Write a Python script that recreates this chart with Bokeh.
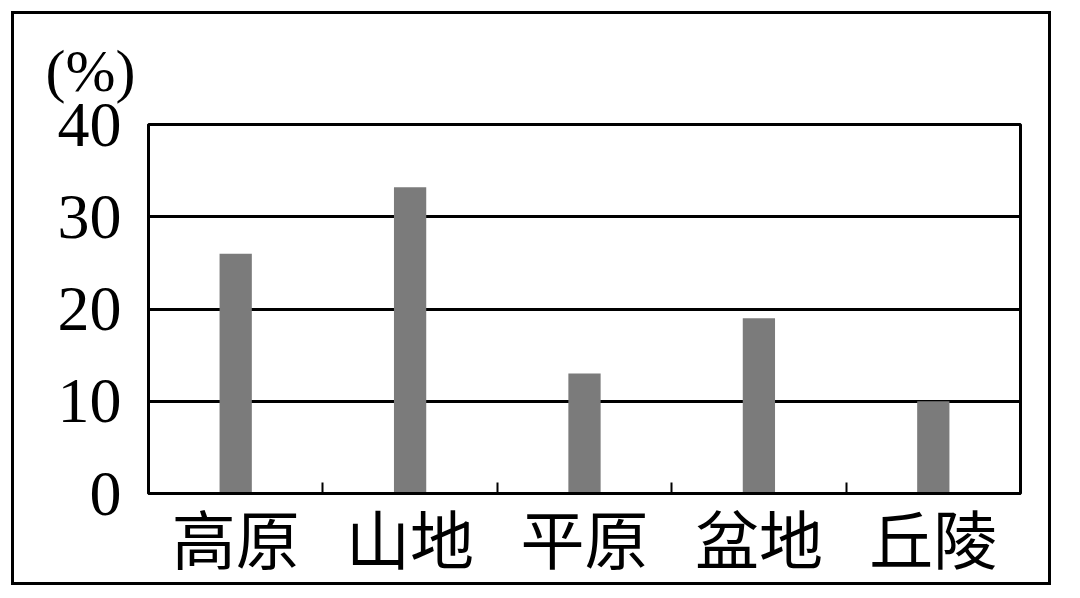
from bokeh.plotting import figure
from bokeh.models import FixedTicker, Range1d, ColumnDataSource, Title
from bokeh.embed import file_html
from bokeh.resources import INLINE

categories = ["高原", "山地", "平原", "盆地", "丘陵"]
values = [26.0, 33.2, 13.0, 19.0, 10.0]
y_ticks = [0, 10, 20, 30, 40]
unit_label = "(%)"

xs = [i + 0.5 for i in range(len(categories))]
bounds = [i for i in range(1, len(categories))]
src = ColumnDataSource(dict(x=xs, top=values))

p = figure(width=1040, height=574, output_backend="svg", toolbar_location=None,
           x_range=Range1d(0, len(categories)), y_range=Range1d(0, y_ticks[-1]),
           min_border_left=134, min_border_right=34, min_border_top=110,
           min_border_bottom=95, margin=(11, 11, 0, 11))
p.styles = {"border": "3px solid black"}

p.vbar(x="x", top="top", width=0.185, source=src, fill_color="#7b7b7b", line_color=None)

t = Title(text=unit_label, text_font="Liberation Serif", text_font_size="60px",
          text_font_style="normal", text_color="black", align="left",
          offset=-103, standoff=41)
p.add_layout(t, "above")

xa = p.xaxis[0]
xa.ticker = FixedTicker(ticks=xs, minor_ticks=bounds)
xa.major_label_overrides = {x: c for x, c in zip(xs, categories)}
xa.major_tick_line_color = None
xa.major_tick_out = 0
xa.major_tick_in = 0
xa.minor_tick_in = 11
xa.minor_tick_out = 0
xa.minor_tick_line_width = 2
xa.minor_tick_line_color = "black"
xa.axis_line_width = 3
xa.axis_line_color = "black"
xa.major_label_text_font = "Noto Sans CJK SC"
xa.major_label_text_font_size = "64px"
xa.major_label_text_color = "black"
xa.major_label_standoff = -4

ya = p.yaxis[0]
ya.ticker = FixedTicker(ticks=y_ticks)
ya.major_tick_line_color = None
ya.minor_tick_line_color = None
ya.major_tick_out = 0
ya.major_tick_in = 0
ya.axis_line_width = 3
ya.axis_line_color = "black"
ya.major_label_text_font = "Liberation Serif"
ya.major_label_text_font_size = "64px"
ya.major_label_text_color = "black"
ya.major_label_standoff = 27

p.xgrid.visible = False
p.ygrid.ticker = FixedTicker(ticks=y_ticks)
p.ygrid.grid_line_color = "black"
p.ygrid.grid_line_width = 3
p.outline_line_color = "black"
p.outline_line_width = 3
p.background_fill_color = "white"
p.border_fill_color = "white"

open("out.html", "w").write(file_html(p, INLINE))
